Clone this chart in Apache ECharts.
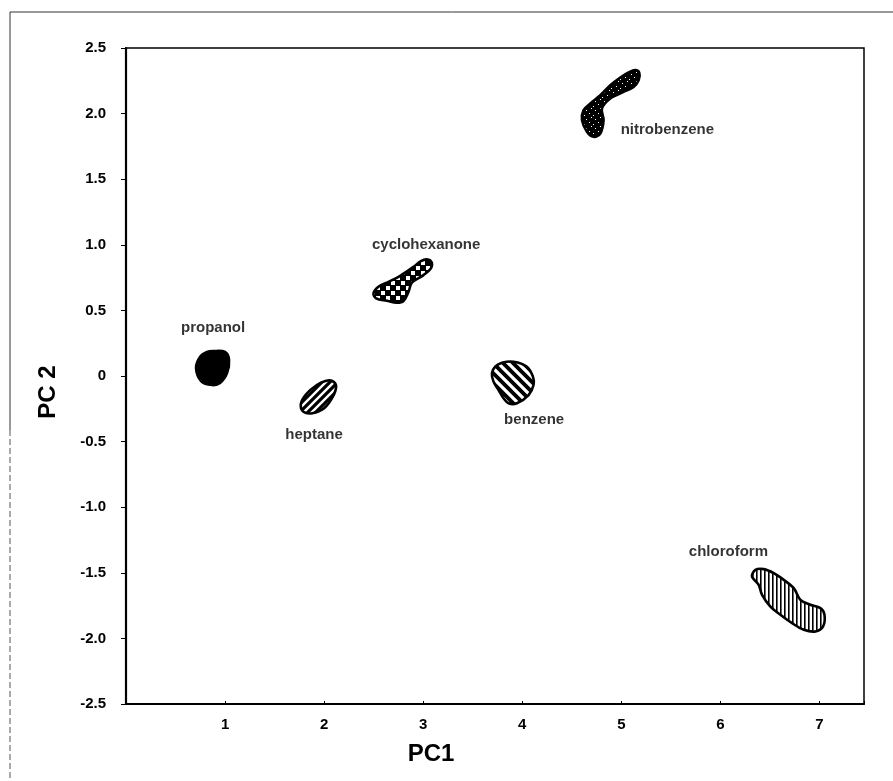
<!DOCTYPE html>
<html>
<head>
<meta charset="utf-8">
<script src="https://cdn.jsdelivr.net/npm/echarts@6/dist/echarts.min.js"></script>
<style>
  html, body { margin: 0; background: #fff; }
  #chart { width: 893px; height: 781px; }
</style>
</head>
<body>
<div id="chart"></div>
<script>
// axis ticks
const X_TICKS = [1, 2, 3, 4, 5, 6, 7];
const Y_MIN = -2.5, Y_MAX = 2.5, Y_STEP = 0.5;

// cluster outlines in (PC1, PC2) units
const propanol = [[0.879, 0.190], [1.0, 0.183], [1.040, 0.122], [1.020, 0.023], [0.949, -0.053],
  [0.869, -0.069], [0.758, -0.038], [0.707, 0.061], [0.747, 0.145], [0.818, 0.183]];
const heptane = [[2.078, -0.036], [2.121, -0.076], [2.088, -0.158], [2.0, -0.246], [1.882, -0.284],
  [1.791, -0.272], [1.765, -0.213], [1.818, -0.139], [1.926, -0.069], [2.013, -0.038]];
const cyclohexanone = [[3.037, 0.889], [3.084, 0.868], [3.078, 0.820], [3.003, 0.769], [2.886, 0.711],
  [2.852, 0.642], [2.801, 0.571], [2.734, 0.558], [2.633, 0.573], [2.525, 0.592], [2.498, 0.630],
  [2.548, 0.680], [2.650, 0.718], [2.768, 0.764], [2.902, 0.832], [2.977, 0.876]];
const benzene = [[3.795, 0.101], [3.912, 0.109], [4.047, 0.071], [4.108, -0.005], [4.114, -0.069],
  [4.064, -0.145], [3.946, -0.208], [3.862, -0.208], [3.811, -0.170], [3.761, -0.107],
  [3.710, -0.043], [3.694, 0.021], [3.727, 0.071]];
const nitrobenzene = [[5.141, 2.331], [5.182, 2.310], [5.175, 2.254], [5.124, 2.203], [5.023, 2.165],
  [4.889, 2.115], [4.805, 2.039], [4.821, 1.950], [4.788, 1.848], [4.720, 1.823], [4.653, 1.861],
  [4.603, 1.950], [4.619, 2.026], [4.687, 2.077], [4.788, 2.140], [4.889, 2.216], [4.990, 2.275],
  [5.074, 2.313]];
const chloroform = [[6.354, -1.478], [6.438, -1.472], [6.539, -1.503], [6.640, -1.554], [6.741, -1.617],
  [6.808, -1.706], [6.909, -1.744], [7.010, -1.769], [7.051, -1.820], [7.037, -1.909], [6.960, -1.947],
  [6.842, -1.934], [6.724, -1.884], [6.606, -1.820], [6.505, -1.757], [6.421, -1.668], [6.387, -1.592],
  [6.320, -1.529]];

// solvent labels and where they sit
const labelNames = ["propanol", "heptane", "cyclohexanone", "benzene", "nitrobenzene", "chloroform"];
const labelX = [0.879, 1.899, 3.03, 4.12, 5.465, 6.081];
const labelY = [0.366, -0.449, 0.998, -0.335, 1.879, -1.340];

const FONT = '"Liberation Sans", Arial, Helvetica, sans-serif';

function tile(size, draw) {
  const c = document.createElement("canvas");
  c.width = c.height = size;
  const ctx = c.getContext("2d");
  draw(ctx, size);
  return c;
}
const pattern = (canvas) => ({ type: "pattern", image: canvas, repeat: "repeat" });

const solidBlack = "#000";
const slashStripes = pattern(tile(8, (ctx, p) => {
  ctx.fillStyle = "#fff"; ctx.fillRect(0, 0, p, p);
  ctx.strokeStyle = "#000"; ctx.lineWidth = 3.2; ctx.beginPath();
  ctx.moveTo(-1, p + 1); ctx.lineTo(p + 1, -1);
  ctx.moveTo(-p / 2, p / 2); ctx.lineTo(p / 2, -p / 2);
  ctx.moveTo(p / 2, 1.5 * p); ctx.lineTo(1.5 * p, p / 2);
  ctx.stroke();
}));
const backStripes = pattern(tile(10, (ctx, p) => {
  ctx.fillStyle = "#fff"; ctx.fillRect(0, 0, p, p);
  ctx.strokeStyle = "#000"; ctx.lineWidth = 3.8; ctx.beginPath();
  ctx.moveTo(-1, -1); ctx.lineTo(p + 1, p + 1);
  ctx.moveTo(-p / 2, p / 2); ctx.lineTo(p / 2, 1.5 * p);
  ctx.moveTo(p / 2, -p / 2); ctx.lineTo(1.5 * p, p / 2);
  ctx.stroke();
}));
const checks = pattern(tile(10, (ctx, p) => {
  ctx.fillStyle = "#000"; ctx.fillRect(0, 0, p, p);
  ctx.fillStyle = "#fff";
  ctx.fillRect(1, 1, 4, 4); ctx.fillRect(6, 6, 4, 4);
}));
const speckles = pattern(tile(9, (ctx, p) => {
  ctx.fillStyle = "#000"; ctx.fillRect(0, 0, p, p);
  ctx.fillStyle = "#fff";
  ctx.fillRect(1, 2, 1, 1); ctx.fillRect(6, 0, 1, 1); ctx.fillRect(4, 5, 1, 1); ctx.fillRect(8, 7, 1, 1);
}));
const vStripes = pattern(tile(4, (ctx, p) => {
  ctx.fillStyle = "#fff"; ctx.fillRect(0, 0, p, p);
  ctx.fillStyle = "#000"; ctx.fillRect(0, 0, 1.6, p);
}));

function blobSeries(outline, fill) {
  return {
    type: "custom",
    coordinateSystem: "cartesian2d",
    data: outline,
    silent: true,
    renderItem(params, api) {
      if (params.dataIndex !== 0) return;
      const pts = outline.map((p) => api.coord(p));
      return {
        type: "polygon",
        shape: { points: pts, smooth: 0.35 },
        style: { fill: fill, stroke: "#000", lineWidth: 2.6 },
      };
    },
  };
}

const chart = echarts.init(document.getElementById("chart"), null, { renderer: "canvas" });
chart.setOption({
  animation: false,
  backgroundColor: "#fff",
  grid: { left: 126, right: 29, top: 48, bottom: 77, show: true, borderColor: "#000", borderWidth: 1.5 },
  xAxis: {
    type: "value",
    min: 0,
    max: 7.45,
    interval: 1,
    splitLine: { show: false },
    axisLine: { onZero: false, lineStyle: { color: "#000", width: 2.2 } },
    axisTick: { inside: true, length: 3, lineStyle: { color: "#000" } },
    axisLabel: {
      margin: 13,
      color: "#000",
      fontFamily: FONT,
      fontWeight: "bold",
      fontSize: 15,
      formatter: (v) => (X_TICKS.indexOf(v) >= 0 ? String(v) : ""),
    },
  },
  yAxis: {
    type: "value",
    min: Y_MIN,
    max: Y_MAX,
    interval: Y_STEP,
    splitLine: { show: false },
    axisLine: { onZero: false, lineStyle: { color: "#000", width: 2.2 } },
    axisTick: { length: 5, lineStyle: { color: "#000" } },
    axisLabel: {
      margin: 20,
      color: "#000",
      fontFamily: FONT,
      fontWeight: "bold",
      fontSize: 15,
      formatter: (v) => (v === 0 ? "0" : v.toFixed(1)),
    },
  },
  graphic: [
    { type: "polyline", shape: { points: [[10, 430], [10, 12], [893, 12]] }, style: { stroke: "#333", lineWidth: 1, fill: null }, silent: true },
    { type: "line", shape: { x1: 10, y1: 430, x2: 10, y2: 781 }, style: { stroke: "#555", lineWidth: 1, lineDash: [6, 3] }, silent: true },
    { type: "text", x: 431, y: 754, style: { text: "PC1", font: "bold 24px " + FONT, fill: "#000", textAlign: "center", textVerticalAlign: "middle" } },
    { type: "text", x: 48, y: 392, rotation: Math.PI / 2, style: { text: "PC 2", font: "bold 24px " + FONT, fill: "#000", textAlign: "center", textVerticalAlign: "middle" } },
  ],
  series: [
    blobSeries(propanol, solidBlack),
    blobSeries(heptane, slashStripes),
    blobSeries(cyclohexanone, checks),
    blobSeries(benzene, backStripes),
    blobSeries(nitrobenzene, speckles),
    blobSeries(chloroform, vStripes),
    {
      type: "scatter",
      symbolSize: 0,
      silent: true,
      itemStyle: { color: "#000" },
      data: labelNames.map((n, i) => ({ name: n, value: [labelX[i], labelY[i]] })),
      label: {
        show: true,
        position: "inside",
        formatter: "{b}",
        color: "#000",
        textBorderWidth: 0,
        textBorderColor: "transparent",
        fontFamily: FONT,
        fontWeight: "bold",
        fontSize: 15,
      },
    },
  ],
});
</script>
</body>
</html>
